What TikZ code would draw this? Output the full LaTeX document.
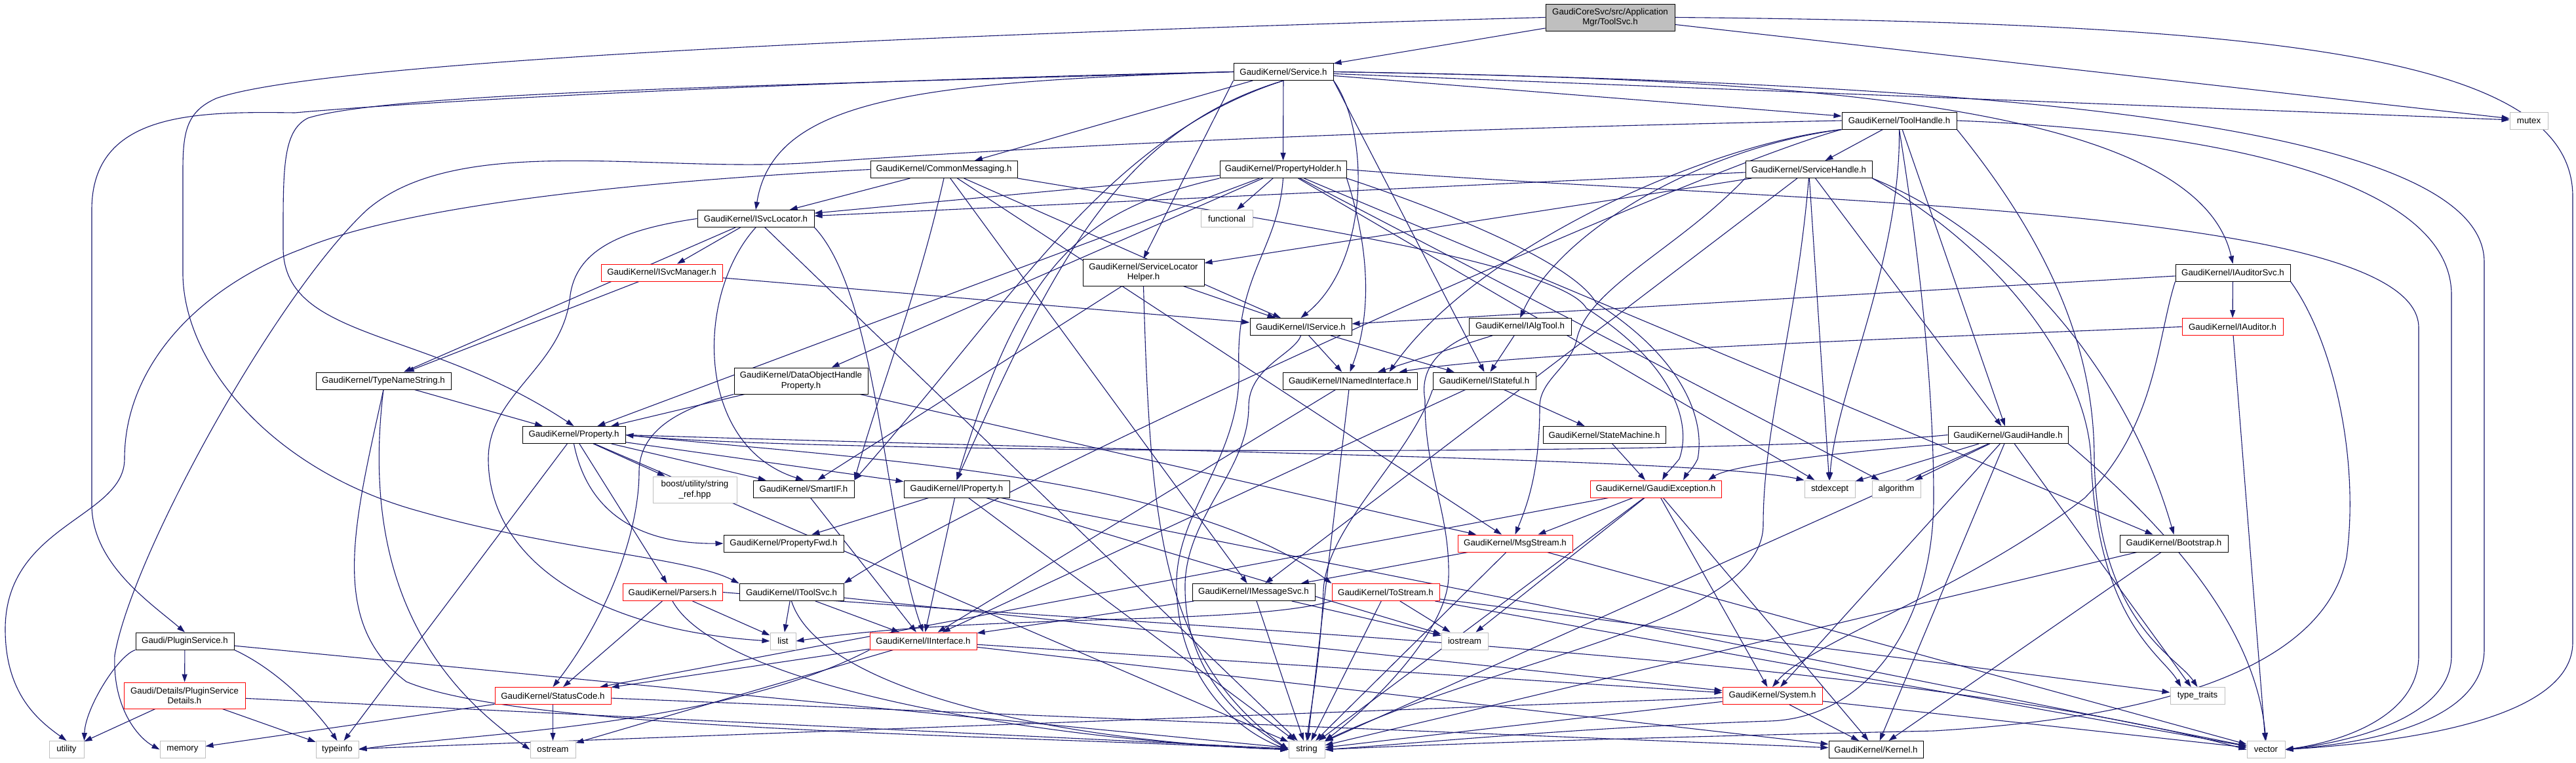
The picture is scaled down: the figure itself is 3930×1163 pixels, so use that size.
\documentclass[tikz,border=0pt]{standalone}
\usepackage{fontspec}
\setmainfont{Liberation Sans}
\usetikzlibrary{arrows.meta,calc}
\definecolor{edgec}{HTML}{191970}
\definecolor{sysc}{HTML}{BFBFBF}
\definecolor{redc}{HTML}{FF0000}
\pgfdeclarelayer{back}
\pgfdeclarelayer{bg}
\pgfsetlayers{back,bg,main}
\begin{document}
\begin{tikzpicture}[x=1pt,y=-1pt,
 nd/.style={draw=black, line width=1pt, fill=white, inner sep=0pt, align=center,
   font=\fontsize{13.3}{15.5}\selectfont, minimum height=26pt},
 tr/.style={nd, draw=redc},
 sy/.style={nd, draw=sysc},
 rt/.style={nd, fill=sysc},
 e/.style={draw=edgec, line width=1.1pt, -{Triangle[length=12pt,width=8pt]}},
]
\begin{pgfonlayer}{back}
\fill[white] (0,0) rectangle (3930,1163);
\end{pgfonlayer}
\useasboundingbox (0,0) rectangle (3930,1163);

\node[rt, minimum width=197pt, minimum height=41pt] (root) at (2456.5,26.5) {GaudiCoreSvc/src/Application\\Mgr/ToolSvc.h};
\node[nd, minimum width=152pt] (service) at (1958,109.5) {GaudiKernel/Service.h};
\node[sy, minimum width=58pt] (mutex) at (3858,184) {mutex};
\node[nd, minimum width=175pt] (toolh) at (2897.5,184) {GaudiKernel/ToolHandle.h};
\node[nd, minimum width=224pt] (commsg) at (1440,258.5) {GaudiKernel/CommonMessaging.h};
\node[nd, minimum width=193pt] (prophold) at (1957.5,258.5) {GaudiKernel/PropertyHolder.h};
\node[nd, minimum width=193pt] (svch) at (2759.5,258.5) {GaudiKernel/ServiceHandle.h};
\node[nd, minimum width=178pt] (isvcloc) at (1153,333.5) {GaudiKernel/ISvcLocator.h};
\node[sy, minimum width=79pt] (functional) at (1871.5,333.5) {functional};
\node[nd, minimum width=185pt, minimum height=41pt] (slh) at (1744.5,415.5) {GaudiKernel/ServiceLocator\\Helper.h};
\node[nd, minimum width=175pt] (iaudsvc) at (3406.5,416) {GaudiKernel/IAuditorSvc.h};
\node[tr, minimum width=185pt] (isvcmgr) at (1009.5,416) {GaudiKernel/ISvcManager.h};
\node[nd, minimum width=155pt] (iservice) at (1984.5,498.5) {GaudiKernel/IService.h};
\node[nd, minimum width=156pt] (ialgtool) at (2319,498.5) {GaudiKernel/IAlgTool.h};
\node[tr, minimum width=154pt] (iauditor) at (3406,498.5) {GaudiKernel/IAuditor.h};
\node[nd, minimum width=204pt, minimum height=40pt] (dohp) at (1222,581) {GaudiKernel/DataObjectHandle\\Property.h};
\node[nd, minimum width=205pt] (inamed) at (2059.5,581) {GaudiKernel/INamedInterface.h};
\node[nd, minimum width=157pt] (istateful) at (2264.5,581) {GaudiKernel/IStateful.h};
\node[nd, minimum width=206pt] (tns) at (585,581) {GaudiKernel/TypeNameString.h};
\node[nd, minimum width=157pt] (property) at (875.5,663.5) {GaudiKernel/Property.h};
\node[nd, minimum width=187pt] (statem) at (2447.5,663.5) {GaudiKernel/StateMachine.h};
\node[nd, minimum width=183pt] (gaudih) at (3063.5,663.5) {GaudiKernel/GaudiHandle.h};
\node[sy, minimum width=128pt, minimum height=40pt] (boost) at (1060,747) {boost/utility/string\\\_ref.hpp};
\node[nd, minimum width=154pt] (smartif) at (1226,746) {GaudiKernel/SmartIF.h};
\node[nd, minimum width=161pt] (iproperty) at (1459.5,746) {GaudiKernel/IProperty.h};
\node[tr, minimum width=200pt] (gexc) at (2526,746) {GaudiKernel/GaudiException.h};
\node[sy, minimum width=77pt] (stdexcept) at (2791.5,746) {stdexcept};
\node[sy, minimum width=74pt] (algorithm) at (2893,746) {algorithm};
\node[nd, minimum width=183pt] (propfwd) at (1195.5,829) {GaudiKernel/PropertyFwd.h};
\node[tr, minimum width=175pt] (msgstream) at (2311.5,829) {GaudiKernel/MsgStream.h};
\node[nd, minimum width=165pt] (bootstrap) at (3316.5,829) {GaudiKernel/Bootstrap.h};
\node[tr, minimum width=152pt] (parsers) at (1026,903.5) {GaudiKernel/Parsers.h};
\node[nd, minimum width=159pt] (itoolsvc) at (1207.5,903.5) {GaudiKernel/IToolSvc.h};
\node[nd, minimum width=187pt] (imsgsvc) at (1912.5,903.5) {GaudiKernel/IMessageSvc.h};
\node[tr, minimum width=164pt] (tostream) at (2114,903.5) {GaudiKernel/ToStream.h};
\node[sy, minimum width=39pt] (list) at (1194.5,978) {list};
\node[sy, minimum width=71pt] (iostream) at (2234.5,978) {iostream};
\node[sy, minimum width=83pt] (typetraits) at (3352.5,1061.5) {type\_traits};
\node[nd, minimum width=150pt] (plugin) at (282,978) {Gaudi/PluginService.h};
\node[tr, minimum width=163pt] (iinterface) at (1408.5,978) {GaudiKernel/IInterface.h};
\node[tr, minimum width=185pt, minimum height=40pt] (plugindet) at (281.5,1061) {Gaudi/Details/PluginService\\Details.h};
\node[tr, minimum width=177pt] (statuscode) at (843.5,1061.5) {GaudiKernel/StatusCode.h};
\node[tr, minimum width=152pt] (system) at (2704,1061.5) {GaudiKernel/System.h};
\node[sy, minimum width=53pt] (utility) at (101.5,1143.5) {utility};
\node[sy, minimum width=69pt] (memory) at (278.5,1143.5) {memory};
\node[sy, minimum width=65pt] (typeinfo) at (514.5,1143.5) {typeinfo};
\node[sy, minimum width=69pt] (ostream) at (843.5,1143.5) {ostream};
\node[sy, minimum width=55pt] (string) at (1993.5,1143.5) {string};
\node[nd, minimum width=144pt] (kernel) at (2862,1143.5) {GaudiKernel/Kernel.h};
\node[sy, minimum width=58pt] (vector) at (3457,1143.5) {vector};

\begin{pgfonlayer}{bg}
\foreach \a/\b in {root/service, root/mutex,
 service/commsg, service/prophold, service/toolh, service/mutex,
 commsg/isvcloc, commsg/iservice, commsg/imsgsvc, commsg/msgstream,
 prophold/functional, prophold/isvcloc, prophold/property, prophold/dohp, prophold/stdexcept,
 prophold/algorithm, prophold/bootstrap,
 toolh/svch, toolh/gaudih,
 svch/isvcloc, svch/slh, svch/gaudih, svch/imsgsvc, svch/stdexcept,
 gaudih/stdexcept, gaudih/algorithm, gaudih/system, gaudih/kernel, gaudih/string, gaudih/typetraits,
 isvcloc/isvcmgr, isvcloc/tns, isvcloc/string,
 slh/iservice, slh/smartif,
 iaudsvc/iauditor, iaudsvc/iservice,
 isvcmgr/iservice, isvcmgr/tns,
 iservice/inamed, iservice/istateful,
 ialgtool/inamed, ialgtool/istateful,
 iauditor/vector,
 dohp/property, dohp/msgstream,
 inamed/iinterface, inamed/string,
 istateful/statem, istateful/iinterface,
 tns/property,
 property/iproperty, property/parsers, property/smartif, property/boost, property/string, property/typeinfo,
 smartif/iinterface,
 iproperty/iinterface, iproperty/propfwd, iproperty/string, iproperty/vector, iproperty/iostream,
 gexc/msgstream, gexc/statuscode, gexc/system, gexc/kernel, gexc/string, gexc/iostream,
 msgstream/imsgsvc, msgstream/string, msgstream/vector,
 bootstrap/kernel, bootstrap/string,
 parsers/statuscode, parsers/list,
 itoolsvc/list, itoolsvc/iinterface, itoolsvc/system,
 imsgsvc/iinterface, imsgsvc/string, imsgsvc/iostream,
 tostream/iostream, tostream/string, tostream/vector, tostream/typetraits,
 plugin/plugindet, plugin/string,
 plugindet/utility, plugindet/typeinfo, plugindet/string,
 iinterface/statuscode, iinterface/system, iinterface/kernel, iinterface/ostream,
 statuscode/ostream, statuscode/kernel, statuscode/memory,
 system/kernel, system/string, system/vector, system/typeinfo}
 { \draw[e] (\a) -- (\b); }

% ---- routed connectors ----
% into GaudiException from above
\draw[e] (statem) -- ($(gexc.north)+(-16,0)$);
\draw[e] (commsg.south east) .. controls (1900,330) and (2380,400) .. (2420,470)
   .. controls (2560,560) and (2580,650) .. (2562,700) .. controls (2550,715) and (2540,725) .. ($(gexc.north)+(10,0)$);
\draw[e] (prophold.south east) .. controls (2200,320) and (2400,400) .. (2435,462)
   .. controls (2580,555) and (2600,650) .. (2590,700) .. controls (2583,715) and (2572,725) .. ($(gexc.north)+(42,0)$);
\draw[e] (gaudih.south west) .. controls (2800,690) and (2640,710) .. ($(gexc.north)+(80,0)$);

% Service.h
\draw[e] (service.west) .. controls (1400,125) and (1180,150) .. (isvcloc.north);
\draw[e] (service.south east) .. controls (2090,200) and (2090,400) .. (iservice.north);
\draw[e] (service.south east) -- (istateful.north);
\draw[e] (service.south west) -- (slh.north);
\draw[e] (service.east) .. controls (2700,120) and (3350,150) .. (iaudsvc.north);
\draw[e] (service.south) .. controls (1700,200) and (1600,420) .. (iproperty.north);
\draw[e] (service.south) .. controls (1690,210) and (1560,440) .. (smartif.north east);
\draw[e] (service.east) .. controls (2900,125) and (3790,170) .. (3790,400) -- (3790,990)
   .. controls (3790,1090) and (3650,1130) .. (vector.east);
\draw[e] (service.west) .. controls (1300,122) and (700,150) .. (450,172) .. controls (300,170) and (140,170) .. (140,320)
   -- (140,770) .. controls (140,860) and (230,920) .. (plugin.north);
\draw[e] (service.west) .. controls (1200,130) and (600,140) .. (470,180) .. controls (430,200) and (432,260) .. (432,380)
   .. controls (435,520) and (650,500) .. (property.north);

% ToolSvc.h
\draw[e] (root.east) .. controls (3500,35) and (3925,90) .. (3925,300) -- (3925,980)
   .. controls (3925,1090) and (3700,1130) .. (vector.east);
\draw[e] (root.west) .. controls (1500,50) and (500,90) .. (330,150) .. controls (285,170) and (279,200) .. (279,260)
   -- (279,420) .. controls (282,560) and (420,720) .. (640,780) .. controls (850,840) and (1050,850) .. (itoolsvc.north west);

% CommonMessaging.h
\draw[e] (commsg.west) .. controls (1100,270) and (650,300) .. (460,380) .. controls (300,440) and (190,560) .. (190,700)
   .. controls (190,790) and (8,800) .. (8,960) .. controls (8,1060) and (60,1100) .. (utility.north);
\draw[e] (commsg.south) .. controls (1400,450) and (1340,600) .. (smartif.north east);

% PropertyHolder.h
\draw[e] (prophold.east) .. controls (2700,310) and (3690,310) .. (3690,500) -- (3690,1000)
   .. controls (3690,1090) and (3580,1130) .. (vector.east);
\draw[e] (prophold.south west) .. controls (1650,320) and (1560,400) .. (iproperty.north);
\draw[e] (prophold.south) .. controls (1950,380) and (1885,420) .. (1890,560) .. controls (1895,700) and (1790,780) .. (1795,900)
   .. controls (1800,1050) and (1900,1120) .. (string.west);
\draw[e] (prophold.south east) .. controls (2080,350) and (2100,460) .. (inamed.north);

% ToolHandle.h
\draw[e] (toolh.east) .. controls (3400,200) and (3740,280) .. (3740,450) -- (3740,1000)
   .. controls (3740,1090) and (3600,1130) .. (vector.east);
\draw[e] (toolh.west) .. controls (2000,200) and (1500,230) .. (1240,248) .. controls (1000,265) and (700,200) .. (560,320)
   .. controls (420,450) and (200,850) .. (175,1000) .. controls (172,1080) and (210,1125) .. (memory.west);
\draw[e] (toolh.south west) .. controls (2600,220) and (2250,380) .. ($(inamed.north)+(60,0)$);
\draw[e] (toolh.south west) .. controls (2600,225) and (2380,350) .. (ialgtool.north);
\draw[e] (toolh.south west) .. controls (2550,270) and (1500,750) .. (itoolsvc.north east);
\draw[e] (toolh.south) .. controls (2900,400) and (2800,600) .. (stdexcept.north);
\draw[e] (toolh.south) .. controls (2930,400) and (2950,600) .. (2950,760) .. controls (2950,950) and (2850,1095) .. (2700,1100)
   .. controls (2400,1110) and (2150,1135) .. (string.east);
\draw[e] (toolh.south east) .. controls (3150,400) and (3195,560) .. (3195,700) .. controls (3200,950) and (3320,1000) .. (typetraits.north);

% ServiceHandle.h
\draw[e] (svch.south east) .. controls (3050,350) and (3240,550) .. (bootstrap.north);
\draw[e] (svch.south east) .. controls (3050,380) and (3185,560) .. (3190,700) .. controls (3200,950) and (3300,1000) .. ($(typetraits.north)+(-25,0)$);
\draw[e] (svch.south) .. controls (2740,500) and (2690,650) .. (2690,800) .. controls (2690,950) and (2300,1000) .. (string.north east);
\draw[e] (svch.south west) .. controls (2560,380) and (2420,440) .. (2405,520) .. controls (2395,560) and (2349,580) .. (2349,620)
   .. controls (2349,720) and (2330,770) .. (msgstream.north);

% GaudiHandle.h
\draw[e] (gaudih.west) .. controls (2600,700) and (1200,690) .. (property.east);
\draw[e] (gaudih.south east) .. controls (3300,800) and (3440,950) .. (vector.north);

% ISvcLocator.h
\draw[e] (isvcloc.south) .. controls (1060,450) and (1060,680) .. (smartif.north);
\draw[e] (isvcloc.south east) .. controls (1340,450) and (1350,800) .. (iinterface.north);
\draw[e] (isvcloc.west) .. controls (950,350) and (880,380) .. (870,450) .. controls (860,560) and (745,600) .. (745,700)
   .. controls (745,850) and (900,960) .. (list.west);

% other routed connectors
\draw[e] (slh.south) .. controls (1755,800) and (1770,1000) .. (string.west);
\draw[e] (iaudsvc.south west) .. controls (3290,520) and (3290,650) .. (3180,760) .. controls (3000,900) and (2760,980) .. (system.north);
\draw[e] (iaudsvc.south east) .. controls (3560,520) and (3600,700) .. (3580,850) .. controls (3540,1050) and (3200,1100) .. (2950,1115)
   .. controls (2500,1125) and (2200,1135) .. (string.east);
\draw[e] (iservice.south) .. controls (1975,540) and (1905,560) .. (1905,620) .. controls (1905,720) and (1805,790) .. (1808,900)
   .. controls (1810,1040) and (1910,1110) .. (string.west);
\draw[e] (ialgtool.south west) .. controls (2200,530) and (2165,560) .. (2174,610) .. controls (2173,720) and (2212,780) .. (2210,880)
   .. controls (2208,960) and (2100,1070) .. (string.north east);
\draw[e] (iauditor.west) .. controls (2800,520) and (2300,540) .. ($(inamed.north)+(75,0)$);
\draw[e] (dohp.south west) .. controls (1050,620) and (975,650) .. (975,720) .. controls (975,820) and (920,950) .. (statuscode.north);
\draw[e] (istateful.south west) .. controls (2150,700) and (2025,800) .. (2019,900) .. controls (2015,1000) and (2000,1080) .. (string.north);
\draw[e] (tns.south) .. controls (540,800) and (500,950) .. (620,1040) .. controls (800,1115) and (1500,1120) .. (string.west);
\draw[e] (tns.south) .. controls (560,800) and (600,1000) .. (ostream.west);
\draw[e] (property.south) .. controls (900,800) and (1000,830) .. (propfwd.west);
\draw[e] (property.east) .. controls (1300,700) and (1800,720) .. (tostream.north west);
\draw[e] (property.east) .. controls (1800,690) and (2600,700) .. (stdexcept.north west);
\draw[e] (tostream.south west) .. controls (1900,955) and (1500,935) .. (list.east);
\draw[e] (itoolsvc.south) .. controls (1250,1050) and (1600,1130) .. (string.west);
\draw[e] (parsers.south) .. controls (1100,1050) and (1600,1130) .. (string.west);
\draw[e] (parsers.east) .. controls (1800,960) and (2900,1000) .. (vector.west);
\draw[e] (plugin.south west) .. controls (180,1000) and (130,1080) .. (utility.north east);
\draw[e] (plugin.south east) .. controls (420,1020) and (480,1080) .. (typeinfo.north);
\draw[e] (iinterface.south west) .. controls (1100,1110) and (700,1120) .. (typeinfo.east);
\end{pgfonlayer}
\end{tikzpicture}
\end{document}
